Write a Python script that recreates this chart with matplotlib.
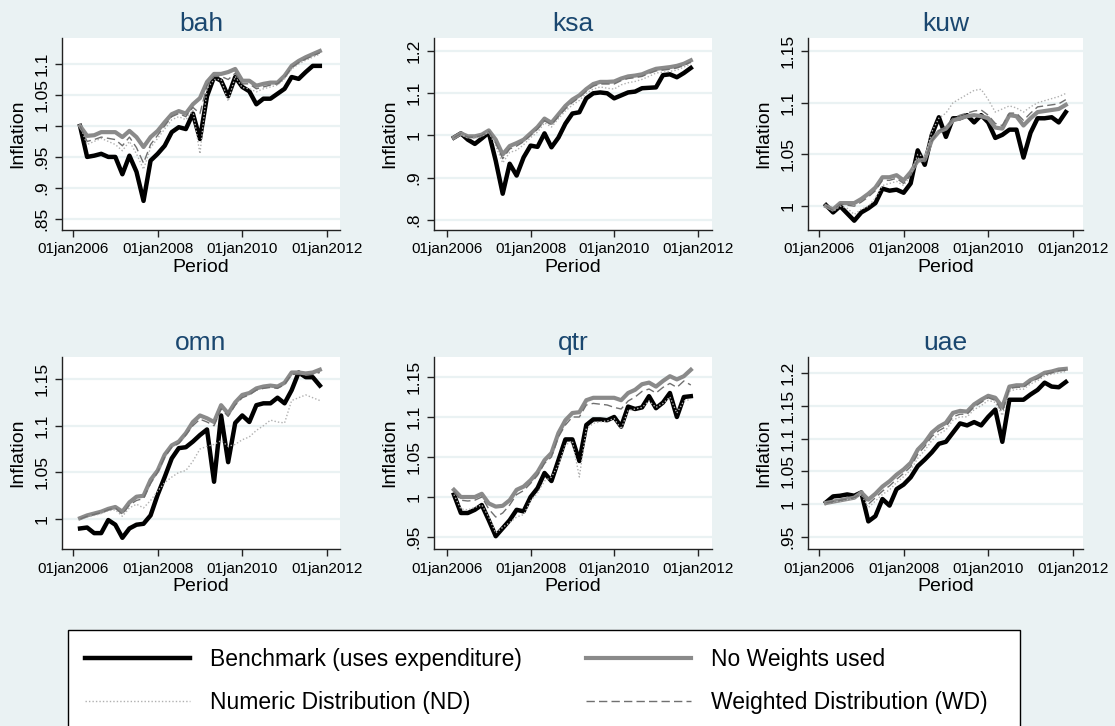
import matplotlib
matplotlib.use("Agg")
import matplotlib.pyplot as plt
from matplotlib import font_manager
from matplotlib.lines import Line2D
from matplotlib.patches import Rectangle
import pandas as pd

# ---------------------------------------------------------------- data
periods = pd.date_range("2006-03-01", "2011-11-01", freq="2MS")

countries = ["bah", "ksa", "kuw", "omn", "qtr", "uae"]

bench_bah = [1.000, 0.950, 0.952, 0.955, 0.950, 0.950, 0.922, 0.952, 0.926, 0.879, 0.944, 0.955,
             0.968, 0.990, 0.998, 0.995, 1.020, 0.979, 1.048, 1.079, 1.073, 1.048, 1.079, 1.063,
             1.056, 1.035, 1.044, 1.044, 1.052, 1.060, 1.079, 1.076, 1.087, 1.097, 1.097]
noweight_bah = [1.000, 0.984, 0.985, 0.990, 0.990, 0.990, 0.982, 0.992, 0.982, 0.966, 0.982, 0.992,
                1.006, 1.019, 1.024, 1.020, 1.035, 1.045, 1.071, 1.084, 1.084, 1.087, 1.092, 1.073,
                1.073, 1.065, 1.068, 1.070, 1.070, 1.081, 1.097, 1.105, 1.111, 1.116, 1.121]
nd_bah = [1.000, 0.970, 0.975, 0.980, 0.975, 0.970, 0.960, 0.975, 0.955, 0.930, 0.965, 0.980,
          0.995, 1.010, 1.015, 1.010, 1.025, 0.955, 1.060, 1.075, 1.075, 1.040, 1.080, 1.062,
          1.060, 1.055, 1.060, 1.063, 1.066, 1.076, 1.092, 1.100, 1.106, 1.111, 1.116]
wd_bah = [1.000, 0.975, 0.978, 0.982, 0.980, 0.978, 0.968, 0.982, 0.965, 0.940, 0.970, 0.985,
          1.000, 1.015, 1.020, 1.015, 1.030, 1.020, 1.065, 1.080, 1.080, 1.075, 1.085, 1.068,
          1.068, 1.060, 1.063, 1.066, 1.068, 1.078, 1.094, 1.102, 1.108, 1.113, 1.118]

bench_ksa = [0.995, 1.005, 0.990, 0.980, 0.993, 1.007, 0.940, 0.862, 0.933, 0.905, 0.948, 0.976,
             0.973, 1.005, 0.972, 0.995, 1.028, 1.052, 1.055, 1.088, 1.100, 1.102, 1.100, 1.088,
             1.095, 1.102, 1.104, 1.112, 1.113, 1.114, 1.143, 1.145, 1.138, 1.148, 1.160]
noweight_ksa = [0.995, 1.005, 0.998, 0.998, 1.002, 1.012, 0.990, 0.955, 0.975, 0.982, 0.990, 1.005,
                1.020, 1.040, 1.030, 1.050, 1.070, 1.085, 1.095, 1.110, 1.122, 1.127, 1.127, 1.128,
                1.135, 1.140, 1.142, 1.145, 1.152, 1.158, 1.160, 1.162, 1.165, 1.170, 1.178]
nd_ksa = [0.995, 1.003, 0.994, 0.993, 0.998, 1.008, 0.975, 0.935, 0.960, 0.965, 0.978, 0.995,
          1.008, 1.030, 1.020, 1.040, 1.058, 1.072, 1.083, 1.100, 1.110, 1.115, 1.112, 1.110,
          1.120, 1.125, 1.128, 1.133, 1.140, 1.148, 1.150, 1.152, 1.155, 1.162, 1.170]
wd_ksa = [0.995, 1.004, 0.996, 0.996, 1.000, 1.010, 0.982, 0.945, 0.968, 0.975, 0.985, 1.000,
          1.015, 1.035, 1.025, 1.045, 1.063, 1.078, 1.090, 1.105, 1.117, 1.122, 1.122, 1.122,
          1.130, 1.135, 1.137, 1.140, 1.147, 1.153, 1.155, 1.157, 1.160, 1.166, 1.174]

bench_kuw = [1.001, 0.994, 1.000, 0.993, 0.986, 0.994, 0.998, 1.003, 1.017, 1.015, 1.016, 1.013,
             1.022, 1.054, 1.040, 1.069, 1.086, 1.067, 1.085, 1.085, 1.088, 1.081, 1.088, 1.081,
             1.066, 1.069, 1.074, 1.074, 1.047, 1.071, 1.085, 1.085, 1.086, 1.081, 1.091]
noweight_kuw = [1.000, 0.997, 1.003, 1.003, 1.003, 1.007, 1.012, 1.018, 1.028, 1.028, 1.030, 1.025,
                1.033, 1.044, 1.045, 1.064, 1.072, 1.075, 1.083, 1.085, 1.087, 1.088, 1.087, 1.085,
                1.076, 1.075, 1.088, 1.087, 1.078, 1.085, 1.091, 1.092, 1.093, 1.094, 1.098]
nd_kuw = [1.000, 0.995, 1.000, 0.998, 0.992, 0.997, 1.000, 1.008, 1.020, 1.022, 1.024, 1.020,
          1.030, 1.050, 1.048, 1.072, 1.085, 1.090, 1.100, 1.104, 1.108, 1.112, 1.113, 1.103,
          1.091, 1.094, 1.097, 1.095, 1.091, 1.096, 1.100, 1.102, 1.104, 1.106, 1.109]
wd_kuw = [1.000, 0.996, 1.002, 1.001, 1.000, 1.004, 1.009, 1.015, 1.025, 1.025, 1.027, 1.022,
          1.030, 1.045, 1.043, 1.063, 1.073, 1.076, 1.085, 1.088, 1.090, 1.092, 1.093, 1.088,
          1.080, 1.078, 1.090, 1.090, 1.083, 1.090, 1.096, 1.097, 1.098, 1.099, 1.103]

bench_omn = [0.990, 0.991, 0.985, 0.985, 0.999, 0.994, 0.980, 0.990, 0.994, 0.995, 1.004, 1.026,
             1.045, 1.065, 1.076, 1.077, 1.083, 1.090, 1.096, 1.040, 1.111, 1.061, 1.103, 1.111,
             1.104, 1.122, 1.124, 1.124, 1.130, 1.124, 1.138, 1.157, 1.152, 1.152, 1.143]
noweight_omn = [1.001, 1.004, 1.006, 1.008, 1.011, 1.013, 1.008, 1.018, 1.024, 1.025, 1.042, 1.052,
                1.069, 1.079, 1.083, 1.092, 1.104, 1.111, 1.108, 1.104, 1.122, 1.113, 1.125, 1.133,
                1.135, 1.140, 1.142, 1.143, 1.142, 1.146, 1.157, 1.157, 1.156, 1.157, 1.160]
nd_omn = [1.000, 1.002, 1.004, 1.006, 1.009, 1.010, 1.003, 1.012, 1.016, 1.012, 1.020, 1.030,
          1.039, 1.045, 1.050, 1.052, 1.062, 1.075, 1.078, 1.080, 1.084, 1.078, 1.080, 1.085,
          1.088, 1.095, 1.100, 1.106, 1.104, 1.103, 1.127, 1.130, 1.133, 1.130, 1.127]
wd_omn = [1.000, 1.003, 1.005, 1.007, 1.010, 1.012, 1.005, 1.015, 1.020, 1.022, 1.038, 1.050,
          1.066, 1.077, 1.081, 1.090, 1.100, 1.107, 1.104, 1.100, 1.118, 1.110, 1.122, 1.130,
          1.133, 1.138, 1.140, 1.141, 1.140, 1.144, 1.155, 1.155, 1.154, 1.155, 1.157]

bench_qtr = [1.003, 0.980, 0.980, 0.984, 0.990, 0.971, 0.951, 0.961, 0.971, 0.984, 0.982, 1.000,
             1.011, 1.030, 1.020, 1.046, 1.072, 1.072, 1.045, 1.090, 1.097, 1.097, 1.096, 1.100,
             1.088, 1.113, 1.110, 1.112, 1.126, 1.111, 1.118, 1.130, 1.100, 1.125, 1.126]
noweight_qtr = [1.009, 1.000, 1.000, 1.000, 1.004, 0.992, 0.988, 0.989, 0.996, 1.009, 1.013, 1.021,
                1.031, 1.046, 1.055, 1.080, 1.096, 1.105, 1.106, 1.121, 1.124, 1.124, 1.124, 1.124,
                1.121, 1.130, 1.134, 1.141, 1.143, 1.138, 1.145, 1.151, 1.147, 1.151, 1.159]
nd_qtr = [1.003, 0.985, 0.984, 0.987, 0.990, 0.975, 0.955, 0.962, 0.968, 0.975, 0.978, 0.995,
          1.005, 1.020, 1.025, 1.040, 1.065, 1.070, 1.025, 1.085, 1.092, 1.094, 1.095, 1.098,
          1.085, 1.108, 1.110, 1.112, 1.120, 1.112, 1.117, 1.125, 1.105, 1.120, 1.122]
wd_qtr = [1.007, 0.996, 0.995, 0.996, 1.000, 0.985, 0.975, 0.980, 0.990, 1.003, 1.008, 1.017,
          1.027, 1.042, 1.050, 1.075, 1.090, 1.100, 1.100, 1.115, 1.117, 1.116, 1.115, 1.112,
          1.110, 1.120, 1.125, 1.132, 1.135, 1.130, 1.137, 1.142, 1.137, 1.145, 1.140]

bench_uae = [1.003, 1.012, 1.013, 1.015, 1.013, 1.018, 0.974, 0.982, 1.008, 0.998, 1.023, 1.030,
             1.041, 1.058, 1.068, 1.079, 1.092, 1.095, 1.109, 1.123, 1.120, 1.125, 1.120, 1.133,
             1.144, 1.095, 1.159, 1.159, 1.159, 1.167, 1.174, 1.185, 1.179, 1.178, 1.186]
noweight_uae = [1.002, 1.004, 1.006, 1.008, 1.010, 1.018, 1.007, 1.016, 1.027, 1.035, 1.045, 1.053,
                1.063, 1.083, 1.094, 1.109, 1.118, 1.124, 1.139, 1.142, 1.141, 1.152, 1.159, 1.165,
                1.162, 1.148, 1.179, 1.181, 1.181, 1.189, 1.194, 1.200, 1.202, 1.205, 1.206]
nd_uae = [1.002, 1.003, 1.005, 1.007, 1.009, 1.015, 0.995, 1.005, 1.015, 1.022, 1.033, 1.042,
          1.052, 1.070, 1.082, 1.097, 1.107, 1.113, 1.128, 1.133, 1.133, 1.144, 1.150, 1.158,
          1.155, 1.135, 1.172, 1.175, 1.175, 1.183, 1.188, 1.195, 1.198, 1.200, 1.202]
wd_uae = [1.002, 1.004, 1.006, 1.008, 1.010, 1.016, 1.000, 1.010, 1.020, 1.028, 1.038, 1.047,
          1.057, 1.076, 1.088, 1.103, 1.112, 1.118, 1.133, 1.137, 1.137, 1.148, 1.155, 1.162,
          1.158, 1.140, 1.176, 1.178, 1.178, 1.186, 1.191, 1.197, 1.200, 1.203, 1.204]

ytick_values = {
    "bah": [0.85, 0.90, 0.95, 1.00, 1.05, 1.10],
    "ksa": [0.8, 0.9, 1.0, 1.1, 1.2],
    "kuw": [1.00, 1.05, 1.10, 1.15],
    "omn": [1.00, 1.05, 1.10, 1.15],
    "qtr": [0.95, 1.00, 1.05, 1.10, 1.15],
    "uae": [0.95, 1.00, 1.05, 1.10, 1.15, 1.20],
}
ytick_labels = {
    "bah": [".85", ".9", ".95", "1", "1.05", "1.1"],
    "ksa": [".8", ".9", "1", "1.1", "1.2"],
    "kuw": ["1", "1.05", "1.1", "1.15"],
    "omn": ["1", "1.05", "1.1", "1.15"],
    "qtr": [".95", "1", "1.05", "1.1", "1.15"],
    "uae": [".95", "1", "1.05", "1.1", "1.15", "1.2"],
}
xtick_years = [2006, 2008, 2010, 2012]
xtick_labels = ["01jan2006", "01jan2008", "01jan2010", "01jan2012"]

series_labels = ["Benchmark (uses expenditure)", "No Weights used",
                 "Numeric Distribution (ND)", "Weighted Distribution (WD)"]

data = {
    "bah": (bench_bah, noweight_bah, nd_bah, wd_bah),
    "ksa": (bench_ksa, noweight_ksa, nd_ksa, wd_ksa),
    "kuw": (bench_kuw, noweight_kuw, nd_kuw, wd_kuw),
    "omn": (bench_omn, noweight_omn, nd_omn, wd_omn),
    "qtr": (bench_qtr, noweight_qtr, nd_qtr, wd_qtr),
    "uae": (bench_uae, noweight_uae, nd_uae, wd_uae),
}

# ---------------------------------------------------------------- style
names = {f.name for f in font_manager.fontManager.ttflist}
FONT = "Liberation Sans Narrow" if "Liberation Sans Narrow" in names else "Liberation Sans"
plt.rcParams["font.family"] = [FONT, "DejaVu Sans"]

BG = "#EAF2F3"
NAVY = "#1A476F"
GRID = "#EAF2F3"

styles = [
    dict(color="black", lw=3.2, ls="-", zorder=3),
    dict(color="#8A8A8A", lw=3.0, ls="-", zorder=4),
    dict(color="#B0B0B0", lw=1.0, ls=(0, (1, 1.5)), zorder=5),
    dict(color="#707070", lw=1.0, ls=(0, (6, 3)), zorder=6),
]

W, H = 1115, 726
fig = plt.figure(figsize=(W / 100, H / 100), dpi=100, facecolor=BG)

col_px = [(62, 340, 2005.74, 2012.31), (434, 712, 2005.69, 2012.34), (808, 1083, 2005.74, 2012.24)]
row_px = [(38, 230), (357, 549)]
ylims = {
    "bah": (0.832, 1.142), "ksa": (0.776, 1.231), "kuw": (0.977, 1.1626),
    "omn": (0.968, 1.1736), "qtr": (0.935, 1.175), "uae": (0.932, 1.224),
}

xvals = periods.year + (periods.month - 1) / 12.0

for k, name in enumerate(countries):
    r, c = divmod(k, 3)
    left, right, x0, x1 = col_px[c]
    top, bottom = row_px[r]
    ax = fig.add_axes([left / W, 1 - bottom / H, (right - left) / W, (bottom - top) / H])
    ax.set_facecolor("white")
    for s in ("top", "right"):
        ax.spines[s].set_visible(False)
    for s in ("left", "bottom"):
        ax.spines[s].set_color("#222222")
        ax.spines[s].set_linewidth(1.0)

    for vals, st in zip(data[name], styles):
        ax.plot(xvals, vals, solid_joinstyle="round", **st)

    ax.set_xlim(x0, x1)
    ax.set_ylim(*ylims[name])
    ax.set_yticks(ytick_values[name])
    ax.set_yticklabels(ytick_labels[name], rotation=90, va="center", fontsize=12.5)
    ax.set_xticks(xtick_years)
    ax.set_xticklabels(xtick_labels, fontsize=11)
    ax.tick_params(direction="out", length=5, width=1.0, color="#222222", pad=4)
    for yv in ytick_values[name]:
        ax.axhline(yv, color=GRID, lw=1.6, zorder=1)

    ax.set_title(name, color=NAVY, fontsize=19, pad=5)
    ax.set_ylabel("Inflation", fontsize=14)
    ax.set_xlabel("Period", fontsize=14)
    ax.yaxis.set_label_coords(-36 / (right - left), 0.5)
    ax.xaxis.set_label_coords(0.5, -29 / (bottom - top))
    ax.xaxis.label.set_va("top")

# legend panel
fig.add_artist(Rectangle((68 / W, -0.02), (1020 - 68) / W, (726 - 630) / H + 0.02,
                         transform=fig.transFigure, facecolor="white",
                         edgecolor="black", lw=1.0, zorder=0))
handles = [Line2D([], [], color=st["color"], lw=st["lw"], ls=st["ls"]) for st in styles]
order = [0, 2, 1, 3]
fig.legend([handles[i] for i in order], [series_labels[i] for i in order],
           ncol=2, frameon=False, loc="center left",
           bbox_to_anchor=(64 / W, 1 - 681 / H), fontsize=16.5,
           handlelength=4.6, handletextpad=0.87, columnspacing=2.8, labelspacing=0.85)

fig.savefig("out.png", dpi=100, facecolor=BG)
